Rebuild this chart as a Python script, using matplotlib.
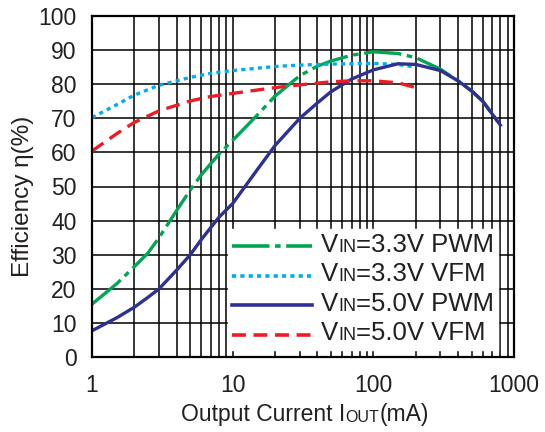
import matplotlib
matplotlib.use("Agg")
import matplotlib.pyplot as plt
from matplotlib.lines import Line2D
from matplotlib.offsetbox import (AnchoredOffsetbox, DrawingArea, HPacker,
                                  TextArea, VPacker)

plt.rcParams['font.family'] = ['Liberation Sans', 'DejaVu Sans']
plt.rcParams['lines.scale_dashes'] = False

# Output current (mA) and efficiency (%)
i_pwm = [1, 1.5, 2, 2.5, 3, 4, 5, 6, 8, 10, 15, 20, 30, 40, 50, 70, 100,
         150, 200, 300, 400, 500, 600, 800]
eff_33_pwm = [15.5, 21.5, 26.5, 30.5, 35, 43, 49, 53.5, 59.5, 63.5, 71, 76.5,
              82.5, 85.3, 86.8, 88.5, 89.5, 89, 87.8, 84.4, 81, 78, 75, 68]
eff_50_pwm = [7.7, 11.5, 14.6, 17.5, 20, 25.5, 30, 34.5, 41, 45, 55, 62,
              70, 74.5, 77.8, 81.5, 84.2, 86, 85.8, 84, 81, 78, 75, 68]

i_vfm = [1, 1.5, 2, 3, 5, 7, 10, 20, 30, 50, 70, 100, 150, 200]
eff_33_vfm = [70.2, 74, 76.8, 79.7, 82, 83.2, 84, 85.2, 85.6, 85.9, 86,
              86.1, 85.8, 85]
eff_50_vfm = [60.4, 65.5, 68.8, 72.2, 75.1, 76.4, 77.3, 79, 79.8, 80.7,
              81, 81, 80.4, 79]

x_ticks = [1, 10, 100, 1000]
y_ticks = list(range(0, 101, 10))

c_green = '#00a651'
c_cyan = '#00aeef'
c_blue = '#2e3192'
c_red = '#ed1c24'
c_text = '#231f20'

fig = plt.figure(figsize=(5.45, 4.32), dpi=100)
ax = fig.add_axes([92 / 545, 1 - 357 / 432, 422 / 545, 341 / 432])

styles = [
    (i_pwm, eff_33_pwm, c_green, (27, 4, 4, 4), '=3.3V PWM'),
    (i_vfm, eff_33_vfm, c_cyan, (3, 3), '=3.3V VFM'),
    (i_pwm, eff_50_pwm, c_blue, None, '=5.0V PWM'),
    (i_vfm, eff_50_vfm, c_red, (10, 5.5), '=5.0V VFM'),
]
for x, y, c, d, _ in styles:
    ln, = ax.plot(x, y, color=c, lw=2.4, zorder=3)
    if d:
        ln.set_dashes(d)

ax.set_xscale('log')
ax.set_xlim(1, 1000)
ax.set_ylim(0, 100)
ax.set_xticks(x_ticks)
ax.set_xticklabels([str(v) for v in x_ticks])
ax.set_yticks(y_ticks)
ax.grid(True, which='major', color='black', lw=1.1)
ax.grid(True, which='minor', axis='x', color='black', lw=1.1)
ax.tick_params(which='both', length=0, labelsize=16.5, colors=c_text)
ax.tick_params(axis='x', pad=12)
ax.tick_params(axis='y', pad=11)
for s in ax.spines.values():
    s.set_linewidth(1.6)
    s.set_zorder(5)
ax.set_axisbelow(True)

# legend: "IN" drawn as small caps on the baseline (sizes in points)
rows = []
for x, y, c, d, rest in styles:
    da = DrawingArea(58, 8)
    hl = Line2D([0, 58], [4, 4], color=c, lw=2.6)
    if d:
        hl.set_dashes(d)
    da.add_artist(hl)
    spacer = DrawingArea(6, 1)
    rows.append(HPacker(children=[
        da, spacer,
        TextArea('V', textprops=dict(fontsize=18.5, color=c_text)),
        TextArea('IN', textprops=dict(fontsize=13, color=c_text)),
        TextArea(rest, textprops=dict(fontsize=18.5, color=c_text)),
    ], align='baseline', pad=0, sep=0))
box = VPacker(children=rows, align='left', pad=0, sep=4)
anch = AnchoredOffsetbox(loc='center', child=box, pad=0.3, frameon=True,
                         bbox_to_anchor=(363 / 545, 1 - 289 / 432),
                         bbox_transform=fig.transFigure)
anch.patch.set_edgecolor('white')
anch.patch.set_facecolor('white')
anch.set_zorder(4)
ax.add_artist(anch)

xlab = HPacker(children=[
    TextArea('Output Current I', textprops=dict(fontsize=16.5, color=c_text)),
    TextArea('OUT', textprops=dict(fontsize=11.5, color=c_text)),
    TextArea('(mA)', textprops=dict(fontsize=16.5, color=c_text)),
], align='baseline', pad=0, sep=0)
fig.add_artist(AnchoredOffsetbox(loc='center', child=xlab, pad=0,
                                 frameon=False,
                                 bbox_to_anchor=(305 / 545, 1 - 415 / 432),
                                 bbox_transform=fig.transFigure))

fig.text(23 / 545, 1 - 196 / 432, 'Efficiency \u03b7(%)', fontsize=17.5,
         color=c_text, rotation=90, ha='center', va='center')

fig.savefig('out.png', dpi=100)
